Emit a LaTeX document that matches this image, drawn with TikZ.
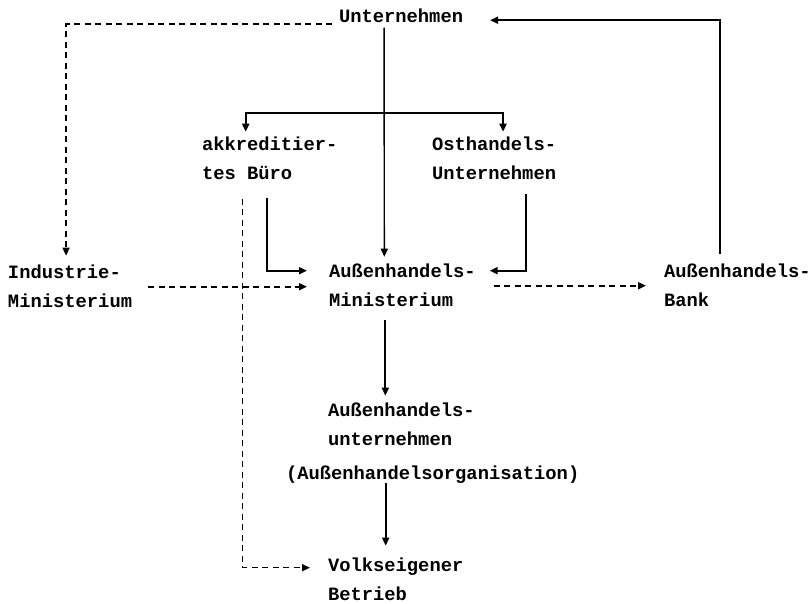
\documentclass[tikz,border=0pt]{standalone}
\usepackage{fontspec}
\newfontfamily\tw{Liberation Mono}
\usetikzlibrary{arrows.meta}
\newcommand{\lns}[1]{\begin{tabular}[t]{@{}l@{}}#1\end{tabular}}
\begin{document}
\begin{tikzpicture}[x=1pt,y=-1pt,
  lbl/.style={anchor=base west,inner sep=0pt,outer sep=0pt,
    font=\tw\bfseries\fontsize{18.8}{29}\selectfont},
  ln/.style={line width=1.8pt},
  arr/.style={ln,-{Triangle[length=8pt,width=7pt]}},
  dsh/.style={ln,dash pattern=on 6pt off 4.5pt},
  darr/.style={dsh,-{Triangle[length=8pt,width=7pt]}}]
\useasboundingbox (0,0) rectangle (811,604);
\fill[white] (0,0) rectangle (811,604);
% nodes
\node[lbl] (un)   at (339,23)  {\lns{Unternehmen}};
\node[lbl] (akk)  at (202,151) {\lns{akkreditier-\\tes Büro}};
\node[lbl] (ost)  at (432,151) {\lns{Osthandels-\\Unternehmen}};
\node[lbl] (ind)  at (8,278)   {\lns{Industrie-\\Ministerium}};
\node[lbl] (mini) at (329,277) {\lns{Außenhandels-\\Ministerium}};
\node[lbl] (bank) at (664,277) {\lns{Außenhandels-\\Bank}};
\node[lbl] (auh)  at (328,416) {\lns{Außenhandels-\\unternehmen}};
\node[lbl] (org)  at (286,479) {\lns{(Außenhandelsorganisation)}};
\node[lbl] (vb)   at (328,571) {\lns{Volkseigener\\Betrieb}};
\coordinate (J) at (384,113);
% connectors
\draw[darr] ([xshift=-7pt,yshift=-7pt]un.west) -| ([xshift=-4pt,yshift=2pt]ind.north);
\draw[arr] ([xshift=-17pt,yshift=3pt]bank.north) |- ([xshift=27pt,yshift=-3pt]un.east);
\draw[arr,line width=1.4pt] ([xshift=-17pt,yshift=4pt]un.south) -- ([xshift=-18pt]mini.north);
\draw[arr,line width=2.2pt] (J) -| ([xshift=-24pt,yshift=-1pt]akk.north);
\draw[arr,line width=2.2pt] (J) -| ([xshift=9pt,yshift=-1pt]ost.north);
\draw[arr] ([xshift=-3pt,yshift=-9pt]akk.south) |- ([xshift=-22pt,yshift=15pt]mini.west);
\draw[arr] ([xshift=32pt,yshift=-5pt]ost.south) |- ([xshift=14pt,yshift=15pt]mini.east);
\draw[darr] ([xshift=16pt]ind.east) -- ([xshift=-22pt]ind.east -| mini.west);
\draw[darr] ([xshift=18pt]mini.east) -- ([xshift=-18pt]bank.west);
\draw[darr,line width=1.4pt] ([xshift=-27pt,yshift=-10pt]akk.south) |- ([xshift=-18pt,yshift=12pt]vb.west);
\draw[arr] ([xshift=-17pt,yshift=-5pt]mini.south) -- ([xshift=-16pt]auh.north);
\draw[arr] ([xshift=-47pt,yshift=5pt]org.south) -- ([xshift=-47pt,yshift=5pt]org.south |- vb.north);
\end{tikzpicture}
\end{document}
